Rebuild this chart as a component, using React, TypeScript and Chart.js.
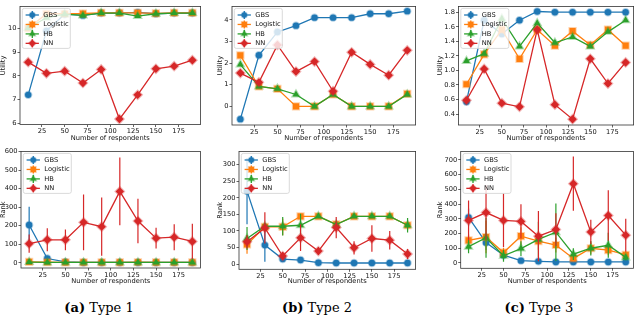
import React, { useEffect, useRef } from "react";
import { Chart, registerables } from "chart.js";

Chart.register(...registerables);
Chart.defaults.font.family = "'DejaVu Sans', sans-serif";

// ---------- data ----------
const respondents = [10, 30, 50, 70, 90, 110, 130, 150, 170, 190];
const xTickValues = [25, 50, 75, 100, 125, 150, 175];
const seriesNames = ["GBS", "Logistic", "HB", "NN"];

// Type 1 utility
const t1UtilGBS = [7.2, 9.9, 10.6, 10.55, 10.65, 10.65, 10.68, 10.62, 10.65, 10.65];
const t1UtilLogistic = [10.0, 10.62, 10.62, 10.63, 10.66, 10.66, 10.66, 10.64, 10.66, 10.66];
const t1UtilHB = [10.02, 10.45, 10.6, 10.55, 10.65, 10.65, 10.52, 10.62, 10.65, 10.65];
const t1UtilNN = [8.58, 8.11, 8.2, 7.7, 8.27, 6.18, 7.2, 8.3, 8.41, 8.66];

// Type 2 utility
const t2UtilGBS = [-0.59, 2.36, 3.44, 3.73, 4.1, 4.1, 4.1, 4.28, 4.28, 4.4];
const t2UtilLogistic = [2.36, 0.92, 0.81, 0.0, 0.0, 0.55, 0.0, 0.0, 0.0, 0.58];
const t2UtilHB = [1.93, 0.92, 0.81, 0.55, 0.0, 0.55, 0.0, 0.0, 0.0, 0.55];
const t2UtilNN = [1.54, 1.11, 2.84, 1.61, 2.07, 0.7, 2.5, 1.94, 1.44, 2.59];

// Type 3 utility
const t3UtilGBS = [0.57, 1.69, 1.5, 1.69, 1.81, 1.8, 1.8, 1.8, 1.8, 1.8];
const t3UtilLogistic = [0.81, 1.22, 1.56, 1.16, 1.56, 1.34, 1.54, 1.35, 1.56, 1.34];
const t3UtilHB = [1.13, 1.23, 1.71, 1.33, 1.65, 1.38, 1.46, 1.33, 1.53, 1.69];
const t3UtilNN = [0.59, 1.02, 0.55, 0.5, 1.56, 0.53, 0.33, 1.16, 0.82, 1.11];

// Type 1 rank (mean, error)
const t1RankGBS = [204, 23, 5, 2, 2, 2, 2, 2, 2, 2];
const t1RankGBSErr = [98, 10, 3, 1, 1, 1, 1, 1, 1, 1];
const t1RankLogistic = [5, 3, 2, 2, 2, 2, 3, 2, 2, 2];
const t1RankLogisticErr = [4, 2, 1, 1, 1, 1, 2, 1, 1, 1];
const t1RankHB = [4, 2, 2, 2, 2, 2, 2, 2, 2, 2];
const t1RankHBErr = [3, 1, 1, 1, 1, 1, 1, 1, 1, 1];
const t1RankNN = [103, 124, 124, 218, 195, 385, 225, 133, 138, 115];
const t1RankNNErr = [49, 62, 56, 150, 157, 182, 120, 56, 70, 95];

// Type 2 rank
const t2RankGBS = [220, 57, 15, 12, 4, 3, 3, 3, 3, 3];
const t2RankGBSErr = [100, 50, 6, 4, 2, 1, 1, 1, 1, 1];
const t2RankLogistic = [59, 112, 112, 144, 144, 120, 144, 144, 144, 117];
const t2RankLogisticErr = [28, 8, 25, 5, 5, 5, 5, 5, 5, 15];
const t2RankHB = [77, 114, 114, 117, 144, 119, 144, 144, 144, 117];
const t2RankHBErr = [35, 8, 28, 35, 5, 5, 5, 5, 5, 22];
const t2RankNN = [67, 109, 24, 79, 39, 110, 49, 77, 72, 30];
const t2RankNNErr = [20, 47, 12, 40, 12, 32, 20, 40, 28, 15];

// Type 3 rank
const t3RankGBS = [309, 138, 53, 16, 11, 7, 7, 7, 7, 7];
const t3RankGBSErr = [60, 50, 15, 5, 3, 2, 2, 2, 2, 2];
const t3RankLogistic = [153, 176, 71, 182, 149, 122, 31, 100, 87, 56];
const t3RankLogisticErr = [40, 110, 30, 60, 60, 50, 20, 40, 35, 25];
const t3RankHB = [111, 171, 49, 98, 160, 209, 60, 100, 120, 38];
const t3RankHBErr = [45, 135, 40, 50, 120, 195, 40, 50, 85, 20];
const t3RankNN = [289, 342, 289, 282, 182, 227, 538, 211, 322, 189];
const t3RankNNErr = [135, 185, 182, 116, 171, 111, 184, 82, 171, 111];

// y ticks
const t1UtilTicks = [6, 7, 8, 9, 10];
const t2UtilTicks = [0, 1, 2, 3, 4];
const t3UtilTicks = [0.4, 0.6, 0.8, 1.0, 1.2, 1.4, 1.6, 1.8];
const t1RankTicks = [0, 100, 200, 300, 400, 500, 600];
const t2RankTicks = [0, 50, 100, 150, 200, 250, 300];
const t3RankTicks = [0, 100, 200, 300, 400, 500, 600, 700];

const captions = [
  { tag: "(a)", text: "Type 1" },
  { tag: "(b)", text: "Type 2" },
  { tag: "(c)", text: "Type 3" },
];

// ---------- styles ----------
const seriesColors = ["#1f77b4", "#ff7f0e", "#2ca02c", "#d62728"];
const seriesHalo = [
  "rgba(31,119,180,0.35)",
  "rgba(255,127,14,0.35)",
  "rgba(44,160,44,0.35)",
  "rgba(214,39,40,0.35)",
];
const seriesMarkers = ["circle", "rect", "triangle", "rectRot"];
const markerRadius = [3.2, 4.4, 4, 4.2];
const FONT_SIZE = 6.7;

type Panel = {
  canvas: { x: number; y: number; w: number; h: number };
  box: { l: number; t: number; r: number; b: number };
  yTitle: string;
  yTitleX: number;
  xTitleY: number;
  yMin: number;
  yMax: number;
  yTicks: number[];
  yDecimals: number;
  series: number[][];
  errors: number[][] | null;
};

const panels: Panel[] = [
  {
    canvas: { x: 0, y: 0, w: 207, h: 145 },
    box: { l: 20, t: 4.5, r: 201, b: 124.5 },
    yTitle: "Utility", yTitleX: 3, xTitleY: 138.3,
    yMin: 5.95, yMax: 10.93, yTicks: t1UtilTicks, yDecimals: 0,
    series: [t1UtilGBS, t1UtilLogistic, t1UtilHB, t1UtilNN], errors: null,
  },
  {
    canvas: { x: 210, y: 0, w: 212, h: 145 },
    box: { l: 232, t: 2, r: 418, b: 125 },
    yTitle: "Utility", yTitleX: 220, xTitleY: 138.3,
    yMin: -0.86, yMax: 4.62, yTicks: t2UtilTicks, yDecimals: 0,
    series: [t2UtilGBS, t2UtilLogistic, t2UtilHB, t2UtilNN], errors: null,
  },
  {
    canvas: { x: 425, y: 0, w: 215, h: 145 },
    box: { l: 458.5, t: 6, r: 638, b: 125 },
    yTitle: "Utility", yTitleX: 440, xTitleY: 138.3,
    yMin: 0.25, yMax: 1.88, yTicks: t3UtilTicks, yDecimals: 1,
    series: [t3UtilGBS, t3UtilLogistic, t3UtilHB, t3UtilNN], errors: null,
  },
  {
    canvas: { x: 0, y: 145, w: 207, h: 145 },
    box: { l: 21, t: 150.7, r: 200.5, b: 268 },
    yTitle: "Rank", yTitleX: 3, xTitleY: 281.7,
    yMin: -28, yMax: 600.5, yTicks: t1RankTicks, yDecimals: 0,
    series: [t1RankGBS, t1RankLogistic, t1RankHB, t1RankNN],
    errors: [t1RankGBSErr, t1RankLogisticErr, t1RankHBErr, t1RankNNErr],
  },
  {
    canvas: { x: 210, y: 145, w: 212, h: 145 },
    box: { l: 239, t: 150.7, r: 418.3, b: 269.3 },
    yTitle: "Rank", yTitleX: 220, xTitleY: 281.7,
    yMin: -16, yMax: 340, yTicks: t2RankTicks, yDecimals: 0,
    series: [t2RankGBS, t2RankLogistic, t2RankHB, t2RankNN],
    errors: [t2RankGBSErr, t2RankLogisticErr, t2RankHBErr, t2RankNNErr],
  },
  {
    canvas: { x: 425, y: 145, w: 215, h: 145 },
    box: { l: 460.7, t: 150, r: 637.3, b: 268.3 },
    yTitle: "Rank", yTitleX: 440, xTitleY: 281.7,
    yMin: -36, yMax: 757, yTicks: t3RankTicks, yDecimals: 0,
    series: [t3RankGBS, t3RankLogistic, t3RankHB, t3RankNN],
    errors: [t3RankGBSErr, t3RankLogisticErr, t3RankHBErr, t3RankNNErr],
  },
];

const captionCenters = [99, 317, 539];

function markerPath(ctx: CanvasRenderingContext2D, style: string, x: number, y: number, r: number) {
  ctx.beginPath();
  if (style === "circle") {
    ctx.arc(x, y, r, 0, Math.PI * 2);
  } else if (style === "rect") {
    const s = r * Math.SQRT1_2;
    ctx.rect(x - s, y - s, 2 * s, 2 * s);
  } else if (style === "triangle") {
    for (let k = 0; k < 3; k++) {
      const a = (k * 2 * Math.PI) / 3;
      const px = x + Math.sin(a) * r;
      const py = y - Math.cos(a) * r;
      if (k === 0) ctx.moveTo(px, py);
      else ctx.lineTo(px, py);
    }
    ctx.closePath();
  } else {
    ctx.moveTo(x, y - r);
    ctx.lineTo(x + r, y);
    ctx.lineTo(x, y + r);
    ctx.lineTo(x - r, y);
    ctx.closePath();
  }
}

function makeDecor(p: Panel) {
  return {
    id: "decor",
    beforeDatasetDraw(chart: any, args: any) {
      if (!p.errors) return;
      const i = args.index;
      const errs = p.errors[i];
      const xs = chart.scales.x;
      const ys = chart.scales.y;
      const ctx = chart.ctx as CanvasRenderingContext2D;
      const a = chart.chartArea;
      ctx.save();
      ctx.beginPath();
      ctx.rect(a.left, a.top, a.right - a.left, a.bottom - a.top);
      ctx.clip();
      ctx.strokeStyle = seriesColors[i];
      ctx.lineWidth = 1.2;
      chart.data.datasets[i].data.forEach((pt: any, j: number) => {
        const x = xs.getPixelForValue(pt.x);
        const y1 = ys.getPixelForValue(pt.y - errs[j]);
        const y2 = ys.getPixelForValue(pt.y + errs[j]);
        ctx.beginPath();
        ctx.moveTo(x, y1);
        ctx.lineTo(x, y2);
        ctx.stroke();
      });
      ctx.restore();
    },
    afterDatasetsDraw(chart: any) {
      const ctx = chart.ctx as CanvasRenderingContext2D;
      const a = chart.chartArea;
      ctx.save();
      ctx.strokeStyle = "#333";
      ctx.lineWidth = 0.8;
      ctx.strokeRect(a.left, a.top, a.right - a.left, a.bottom - a.top);

      // legend
      const lx = a.left + 2.3;
      const ly = a.top + 2;
      const lw = 48;
      const lh = 40;
      ctx.beginPath();
      (ctx as any).roundRect(lx, ly, lw, lh, 2);
      ctx.fillStyle = "rgba(255,255,255,0.8)";
      ctx.fill();
      ctx.strokeStyle = "#d0d0d0";
      ctx.lineWidth = 0.8;
      ctx.stroke();
      seriesNames.forEach((name, i) => {
        const ry = ly + 6.6 + i * 9.45;
        const mx = lx + 10;
        ctx.strokeStyle = seriesColors[i];
        ctx.lineWidth = 1.3;
        ctx.beginPath();
        ctx.moveTo(lx + 3.3, ry);
        ctx.lineTo(lx + 16.6, ry);
        ctx.stroke();
        ctx.beginPath();
        ctx.moveTo(mx, ry - 4);
        ctx.lineTo(mx, ry + 4);
        ctx.stroke();
        markerPath(ctx, seriesMarkers[i], mx, ry, markerRadius[i] * 0.85);
        ctx.fillStyle = seriesColors[i];
        ctx.fill();
        ctx.strokeStyle = seriesHalo[i];
        ctx.lineWidth = 1.6;
        ctx.stroke();
        ctx.fillStyle = "#111";
        ctx.font = `${FONT_SIZE}px 'DejaVu Sans'`;
        ctx.textBaseline = "middle";
        ctx.textAlign = "left";
        ctx.fillText(name, lx + 21, ry + 0.3);
      });
      ctx.restore();
    },
  };
}

function PanelChart({ p }: { p: Panel }) {
  const ref = useRef<HTMLCanvasElement>(null);
  useEffect(() => {
    const canvas = ref.current;
    if (!canvas) return;
    const yAxisW = p.box.l - p.canvas.x;
    const xAxisH = p.canvas.y + p.canvas.h - p.box.b;
    const padTop = p.box.t - p.canvas.y;
    const padRight = p.canvas.x + p.canvas.w - p.box.r;
    const lh = FONT_SIZE * 1.2;
    const yTitlePad = p.yTitleX - p.canvas.x - lh / 2;
    const xTitlePad = p.canvas.y + p.canvas.h - p.xTitleY - lh / 2;
    const zeroPad = (s: any) => {
      s.paddingLeft = 0;
      s.paddingRight = 0;
      s.paddingTop = 0;
      s.paddingBottom = 0;
    };
    const chart = new Chart(canvas, {
      type: "line",
      data: {
        datasets: seriesNames.map((name, i) => ({
          label: name,
          data: respondents.map((x, j) => ({ x, y: p.series[i][j] })),
          borderColor: seriesColors[i],
          backgroundColor: seriesColors[i],
          pointBackgroundColor: seriesColors[i],
          pointBorderColor: seriesHalo[i],
          pointBorderWidth: 2,
          pointRadius: markerRadius[i],
          pointStyle: seriesMarkers[i] as any,
          borderWidth: 1.3,
          order: 3 - i,
          fill: false,
          tension: 0,
        })),
      },
      options: {
        animation: false,
        responsive: false,
        maintainAspectRatio: false,
        devicePixelRatio: 1,
        events: [],
        layout: { padding: { top: padTop, right: padRight, left: 0, bottom: 0 } },
        plugins: { legend: { display: false }, tooltip: { enabled: false } },
        scales: {
          x: {
            type: "linear",
            min: 1,
            max: 199,
            afterBuildTicks: (s: any) => {
              s.ticks = xTickValues.map((v) => ({ value: v }));
            },
            afterFit: (s: any) => {
              s.height = xAxisH;
              zeroPad(s);
            },
            grid: { display: true, drawOnChartArea: false, drawTicks: true, tickLength: 2.5, color: "#222", lineWidth: 0.7 },
            border: { display: false },
            ticks: { font: { size: FONT_SIZE }, color: "#111", padding: 0.5, maxRotation: 0, autoSkip: false },
            title: {
              display: true,
              text: "Number of respondents",
              font: { size: FONT_SIZE },
              color: "#111",
              padding: { top: 0, bottom: xTitlePad },
            },
          },
          y: {
            type: "linear",
            min: p.yMin,
            max: p.yMax,
            afterBuildTicks: (s: any) => {
              s.ticks = p.yTicks.map((v) => ({ value: v }));
            },
            afterFit: (s: any) => {
              s.width = yAxisW;
              zeroPad(s);
            },
            grid: { display: true, drawOnChartArea: false, drawTicks: true, tickLength: 2.5, color: "#222", lineWidth: 0.7 },
            border: { display: false },
            ticks: {
              font: { size: FONT_SIZE },
              color: "#111",
              padding: 1,
              autoSkip: false,
              callback: (v: any) => Number(v).toFixed(p.yDecimals),
            },
            title: {
              display: true,
              text: p.yTitle,
              font: { size: FONT_SIZE },
              color: "#111",
              padding: { top: yTitlePad, bottom: 0 },
            },
          },
        },
      },
      plugins: [makeDecor(p) as any],
    });
    return () => chart.destroy();
  }, [p]);
  return (
    <canvas
      ref={ref}
      width={p.canvas.w}
      height={p.canvas.h}
      style={{ position: "absolute", left: p.canvas.x, top: p.canvas.y, width: p.canvas.w, height: p.canvas.h }}
    />
  );
}

export default function App() {
  return (
    <div style={{ position: "absolute", left: 0, top: 0, width: 640, height: 316, background: "#fff", overflow: "hidden" }}>
      {panels.map((p, i) => (
        <PanelChart key={i} p={p} />
      ))}
      {captions.map((c, i) => (
        <div
          key={i}
          style={{
            position: "absolute",
            left: captionCenters[i] - 60,
            width: 120,
            top: 299.5,
            height: 15,
            lineHeight: "15px",
            textAlign: "center",
            fontFamily: "'DejaVu Serif', serif",
            fontSize: 13,
            color: "#000",
            whiteSpace: "nowrap",
          }}
        >
          <span style={{ fontWeight: "bold" }}>{c.tag}</span> {c.text}
        </div>
      ))}
    </div>
  );
}
